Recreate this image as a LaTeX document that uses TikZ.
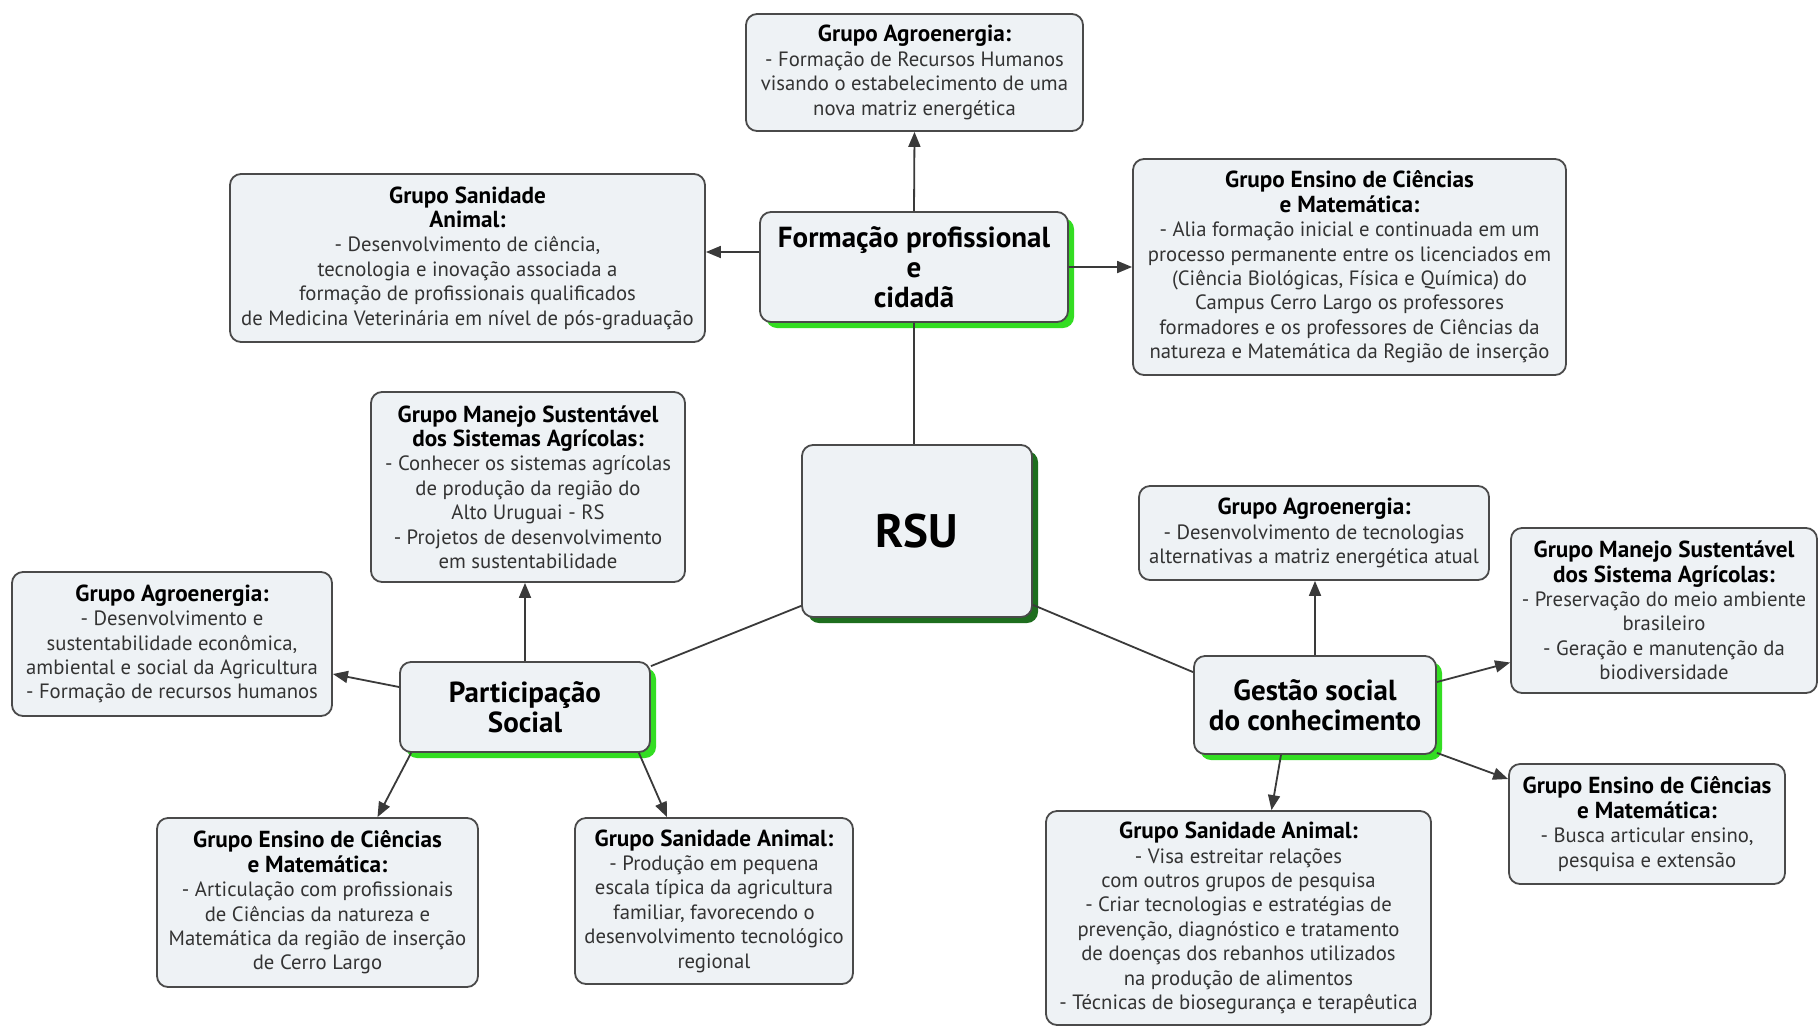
\documentclass[tikz,border=0pt]{standalone}
\usepackage{fontspec}
\setmainfont{PT Sans}
\usetikzlibrary{arrows.meta,shadows}
\definecolor{boxfill}{HTML}{EEF2F5}
\definecolor{boxline}{HTML}{4A4A4A}
\definecolor{bodytxt}{HTML}{333333}
\definecolor{lgreen}{HTML}{33DD22}
\definecolor{dgreen}{HTML}{1E6E1E}
\definecolor{conncol}{HTML}{3A3A3A}
\newcommand\hd[1]{{\fontsize{23.2}{24.4}\selectfont\bfseries\color{black}#1}}
\tikzset{
  box/.style={rounded corners=11pt, draw=boxline, line width=1.8pt, fill=boxfill,
    align=center, inner sep=2pt, text=bodytxt, font=\fontsize{20.7}{24.4}\selectfont},
  mainbox/.style={box, text=black, font=\bfseries\fontsize{29}{30}\selectfont,
    drop shadow={shadow xshift=6pt, shadow yshift=-6pt, fill=lgreen, opacity=1}},
  rsubox/.style={box, text=black, font=\bfseries\fontsize{47}{56}\selectfont,
    drop shadow={shadow xshift=6pt, shadow yshift=-6pt, fill=dgreen, opacity=1}},
  conn/.style={draw=conncol, line width=1.8pt},
  arr/.style={conn, -{Triangle[length=15pt,width=12pt]}}
}
\begin{document}
\begin{tikzpicture}[x=1pt,y=-1pt]
\useasboundingbox (0,0) rectangle (1820,1026);
\fill[white] (0,0) rectangle (1820,1026);

% top branch
\node[box, minimum width=337pt, minimum height=117pt] (agroTop) at (914.5,72.5)
 {\hd{Grupo Agroenergia:}\\- Formação de Recursos Humanos\\visando o estabelecimento de uma\\nova matriz energética};
\node[mainbox, minimum width=308pt, minimum height=110pt] (formacao) at (914,267)
 {Formação profissional\\e\\cidadã};
\node[rsubox, minimum width=230pt, minimum height=172pt] (RSU) at (917,531) {RSU};
\node[box, minimum width=475pt, minimum height=168pt] (sanTop) at (467.5,258)
 {\hd{Grupo Sanidade}\\\hd{Animal:}\\- Desenvolvimento de ciência,\\tecnologia e inovação associada a\\formação de profissionais qualificados\\de Medicina Veterinária em nível de pós-graduação};
\node[box, minimum width=433pt, minimum height=216pt] (ensTop) at (1349.5,267)
 {\hd{Grupo Ensino de Ciências}\\\hd{e Matemática:}\\- Alia formação inicial e continuada em um\\processo permanente entre os licenciados em\\(Ciência Biológicas, Física e Química) do\\Campus Cerro Largo os professores\\formadores e os professores de Ciências da\\natureza e Matemática da Região de inserção};

% left branch
\node[box, minimum width=314pt, minimum height=190pt] (manejoL) at (528,487)
 {\hd{Grupo Manejo Sustentável}\\\hd{dos Sistemas Agrícolas:}\\- Conhecer os sistemas agrícolas\\de produção da região do\\Alto Uruguai - RS\\- Projetos de desenvolvimento\\em sustentabilidade};
\node[box, minimum width=320pt, minimum height=144pt] (agroL) at (172,644)
 {\hd{Grupo Agroenergia:}\\- Desenvolvimento e\\sustentabilidade econômica,\\ambiental e social da Agricultura\\- Formação de recursos humanos};
\node[mainbox, minimum width=250pt, minimum height=90pt] (part) at (525,707)
 {Participação\\Social};
\node[box, minimum width=321pt, minimum height=169pt] (ensBL) at (317.5,902.5)
 {\hd{Grupo Ensino de Ciências}\\\hd{e Matemática:}\\- Articulação com profissionais\\de Ciências da natureza e\\Matemática da região de inserção\\de Cerro Largo};
\node[box, minimum width=278pt, minimum height=166pt] (sanBM) at (714,901)
 {\hd{Grupo Sanidade Animal:}\\- Produção em pequena\\escala típica da agricultura\\familiar, favorecendo o\\desenvolvimento tecnológico\\regional};

% right branch
\node[box, minimum width=350pt, minimum height=94pt] (agroR) at (1314,533)
 {\hd{Grupo Agroenergia:}\\- Desenvolvimento de tecnologias\\alternativas a matriz energética atual};
\node[box, minimum width=306pt, minimum height=165pt] (manejoR) at (1664,610.5)
 {\hd{Grupo Manejo Sustentável}\\\hd{dos Sistema Agrícolas:}\\- Preservação do meio ambiente\\brasileiro\\- Geração e manutenção da\\biodiversidade};
\node[mainbox, minimum width=242pt, minimum height=98pt] (gestao) at (1315,705)
 {Gestão social\\do conhecimento};
\node[box, minimum width=276pt, minimum height=120pt] (ensR) at (1647,824)
 {\hd{Grupo Ensino de Ciências}\\\hd{e Matemática:}\\- Busca articular ensino,\\pesquisa e extensão};
\node[box, minimum width=385pt, minimum height=214pt] (sanBR) at (1238.5,918)
 {\hd{Grupo Sanidade Animal:}\\- Visa estreitar relações\\com outros grupos de pesquisa\\- Criar tecnologias e estratégias de\\prevenção, diagnóstico e tratamento\\de doenças dos rebanhos utilizados\\na produção de alimentos\\- Técnicas de biosegurança e terapêutica};

% connectors
\draw[conn] (formacao.south) -- (formacao.south |- RSU.north);
\draw[arr] (formacao.north) -- (agroTop.south);
\coordinate (fL) at ([yshift=15pt]formacao.west);
\draw[arr] (fL) -- (fL -| sanTop.east);
\draw[arr] (formacao.east) -- (formacao.east -| ensTop.west);

\draw[conn] ([yshift=12pt]RSU.south west) -- ([yshift=-5pt]part.north east);
\draw[conn] ([yshift=13pt]RSU.south east) -- ([yshift=-17pt]gestao.north west);

\draw[arr] (part.north) -- (part.north |- manejoL.south);
\draw[arr] ([yshift=20pt]part.west) -- ([yshift=-30pt]agroL.east);
\draw[arr] ([xshift=12pt]part.south west) -- ([xshift=60pt]ensBL.north);
\draw[arr] ([xshift=-12pt]part.south east) -- ([xshift=-47pt]sanBM.north);

\draw[arr] (gestao.north) -- (gestao.north |- agroR.south);
\draw[arr] ([yshift=23pt]gestao.east) -- ([yshift=-52pt]manejoR.west);
\draw[arr] ([yshift=2pt]gestao.south east) -- ([yshift=45pt]ensR.west);
\draw[arr] ([xshift=-34pt]gestao.south) -- ([xshift=33pt]sanBR.north);
\end{tikzpicture}
\end{document}
